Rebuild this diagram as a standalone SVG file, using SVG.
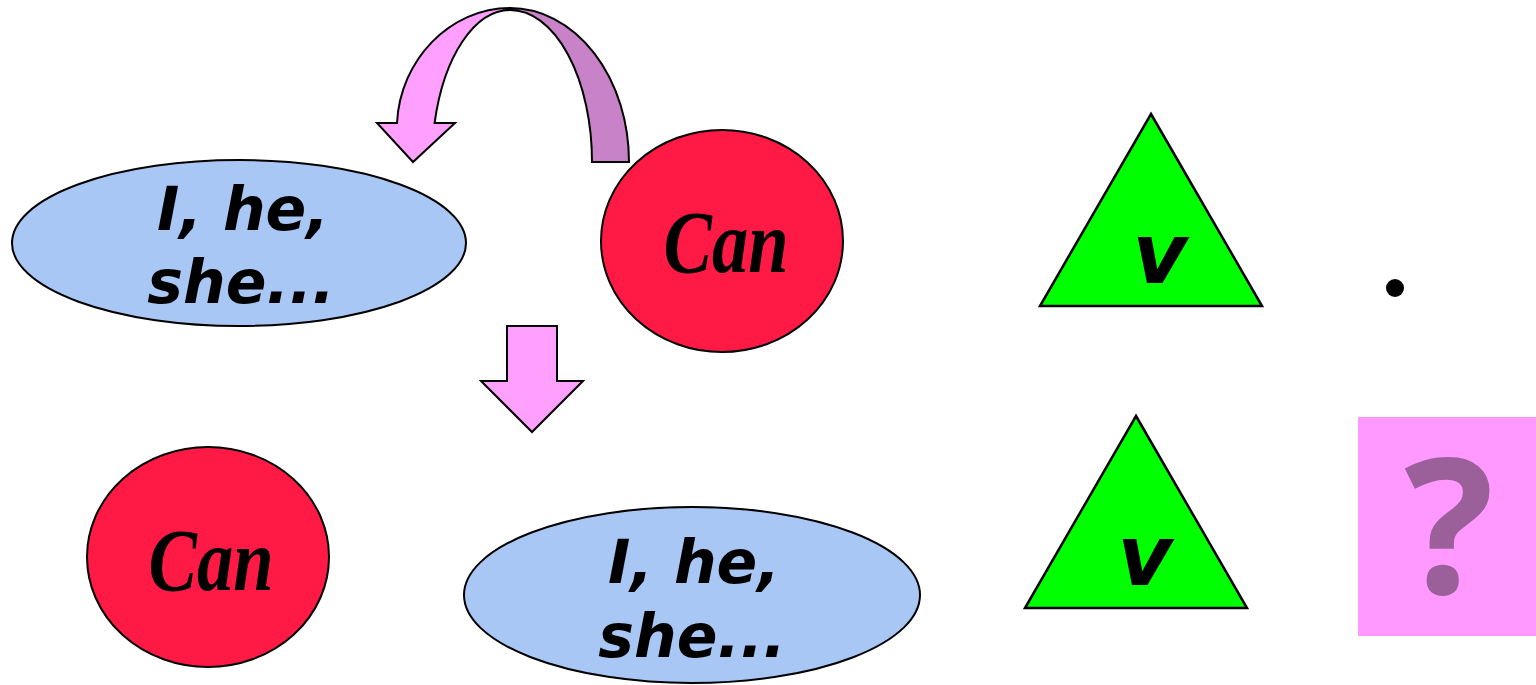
<svg xmlns="http://www.w3.org/2000/svg" width="1536" height="685" viewBox="0 0 1536 685">
<style>
.blue{fill:#a8c7f5;stroke:#000;stroke-width:2}
.red{fill:#ff1a45;stroke:#000;stroke-width:2}
.tri{fill:#00ff00;stroke:#000;stroke-width:2.5;stroke-linejoin:miter}
.pron{font-family:"DejaVu Sans",sans-serif;font-weight:bold;font-style:oblique;font-size:60px;fill:#000;text-anchor:middle}
.can{font-family:"Liberation Serif","DejaVu Serif",serif;font-weight:bold;font-style:italic;font-size:88px;fill:#000;text-anchor:middle}
.v{font-family:"DejaVu Sans",sans-serif;font-weight:bold;font-style:oblique;font-size:84px;fill:#000;text-anchor:middle}
.arr{stroke:#000;stroke-width:2;stroke-linejoin:miter}
</style>
<rect width="1536" height="685" fill="#fff"/>
<g id="connectors">
  <path class="arr" fill="#c882c8" d="M510,8 A119,154 0 0 1 629,162 L592,162 A82,152 0 0 0 510,10 Z"/>
  <path class="arr" fill="#ffa0ff" d="M510,8 C450,8 400,60 397,123 L377,123 L413,162 L455,123 L434.6,123 A78,152 0 0 1 510,10 Z"/>
  <path class="arr" fill="#ffa0ff" d="M507,326 L557,326 L557,381 L583,381 L532,432 L481,381 L507,381 Z"/>
</g>
<g id="pronoun-top">
  <ellipse class="blue" cx="239" cy="243" rx="227" ry="83"/>
  <text class="pron" x="243" y="230">I, he,</text>
  <text class="pron" x="241" y="303">she...</text>
</g>
<g id="can-top">
  <ellipse class="red" cx="722" cy="241" rx="121" ry="111"/>
  <text class="can" x="726" y="272" textLength="125" lengthAdjust="spacingAndGlyphs">Can</text>
</g>
<g id="can-bottom">
  <ellipse class="red" cx="208" cy="557" rx="121" ry="110"/>
  <text class="can" x="211" y="590" textLength="125" lengthAdjust="spacingAndGlyphs">Can</text>
</g>
<g id="pronoun-bottom">
  <ellipse class="blue" cx="692" cy="595" rx="228" ry="88"/>
  <text class="pron" x="694" y="583">I, he,</text>
  <text class="pron" x="692" y="657">she...</text>
</g>
<g id="verb-top">
  <polygon class="tri" points="1151,114 1262,306 1040,306"/>
  <text class="v" x="1160" y="283">v</text>
</g>
<g id="verb-bottom">
  <polygon class="tri" points="1136,416 1247,608 1025,608"/>
  <text class="v" x="1145" y="585">v</text>
</g>
<g id="full-stop">
  <circle cx="1395" cy="288" r="9" fill="#000"/>
</g>
<g id="question">
  <rect x="1358" y="417" width="178" height="219" fill="#ff99ff"/>
  <text x="1449" y="594" font-family="'Open Sans', 'Noto Sans', sans-serif" font-weight="700" font-size="188" fill="#9b5f9a" text-anchor="middle">?</text>
</g>
</svg>
